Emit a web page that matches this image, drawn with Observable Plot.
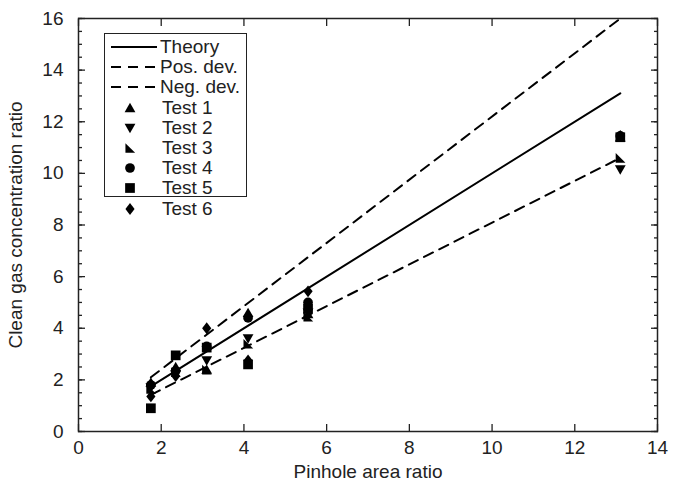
<!DOCTYPE html>
<html><head><meta charset="utf-8">
<script src="https://cdn.jsdelivr.net/npm/d3@7"></script>
<script src="https://cdn.jsdelivr.net/npm/@observablehq/plot@0.6"></script>
<style>
body{margin:0;background:#fff;font-family:"Liberation Sans",Arial,sans-serif;}
#wrap{position:relative;width:682px;height:485px;}
#legend{position:absolute;left:104px;top:33px;width:143px;height:164px;border:1.5px solid #222;background:#fff;box-sizing:border-box;}
.row{position:absolute;left:0;height:20px;display:flex;align-items:center;font-size:19px;color:#222;white-space:nowrap;}
.row svg{display:block;}
</style></head><body><div id="wrap"><div id="legend"></div></div>
<script>
// ---- data ----
const testNames = ["Test 1", "Test 2", "Test 3", "Test 4", "Test 5", "Test 6"];
const xLevels = [1.75, 2.35, 3.1, 4.1, 5.55, 13.1];
const test1 = [1.9, 2.5, 2.4, 4.6, 4.55, 11.4];
const test2 = [1.7, 2.2, 2.75, 3.6, 4.6, 10.15];
const test3 = [1.65, 2.3, 2.4, 3.4, 4.45, 10.6];
const test4 = [1.8, 2.35, 3.3, 4.4, 5.0, 11.45];
const test5 = [0.9, 2.95, 3.25, 2.6, 4.75, 11.4];
const test6 = [1.36, 2.15, 4.0, 2.75, 5.43, 11.45];
const lineX = [1.75, 13.1];
const theoryY = [1.75, 13.1];
const posDevY = [2.1, 16.0];
const negDevY = [1.42, 10.6];
const xTicks = [0, 2, 4, 6, 8, 10, 12, 14];
const yTicks = [0, 2, 4, 6, 8, 10, 12, 14, 16];
const yMinorTicks = d3.range(0, 16.01, 0.5);

// ---- symbol shapes (unit k = r) ----
function poly(ctx, pts){ ctx.moveTo(pts[0][0], pts[0][1]); for (let i=1;i<pts.length;i++) ctx.lineTo(pts[i][0], pts[i][1]); ctx.closePath(); }
const symUp = {draw(ctx, size){ const k=Math.sqrt(size/Math.PI); poly(ctx, [[0,-0.95*k],[-k,0.8*k],[k,0.8*k]]); }};
const symDown = {draw(ctx, size){ const k=Math.sqrt(size/Math.PI); poly(ctx, [[0,0.95*k],[-k,-0.8*k],[k,-0.8*k]]); }};
const symRight = {draw(ctx, size){ const k=Math.sqrt(size/Math.PI); poly(ctx, [[-0.85*k,-0.9*k],[-0.85*k,0.9*k],[0.95*k,0.9*k]]); }};
const symCircle = {draw(ctx, size){ const k=Math.sqrt(size/Math.PI); ctx.moveTo(0.9*k,0); ctx.arc(0,0,0.9*k,0,2*Math.PI); }};
const symSquare = {draw(ctx, size){ const k=Math.sqrt(size/Math.PI); poly(ctx, [[-0.9*k,-0.9*k],[0.9*k,-0.9*k],[0.9*k,0.9*k],[-0.9*k,0.9*k]]); }};
const symDiamond = {draw(ctx, size){ const k=Math.sqrt(size/Math.PI); poly(ctx, [[0,-1.1*k],[0.85*k,0],[0,1.1*k],[-0.85*k,0]]); }};
const symbols = [symUp, symDown, symRight, symCircle, symSquare, symDiamond];
const series = [test1, test2, test3, test4, test5, test6];

const points = [];
series.forEach((vals, i) => vals.forEach((v, j) => points.push({test: testNames[i], x: xLevels[j], y: v})));
const lines = [
  {name: "Theory", ys: theoryY, dash: null},
  {name: "Pos. dev.", ys: posDevY, dash: "10,7"},
  {name: "Neg. dev.", ys: negDevY, dash: "10,7"}
];

const R = 5.4;
const dotMarks = testNames.map((t, i) => Plot.dot(points.filter(d => d.test === t), {x: "x", y: "y", r: R, symbol: symbols[i], fill: "#000", stroke: "none"}));
const lineMarks = lines.map(L => Plot.line(lineX.map((x, i) => ({x, y: L.ys[i]})), {x: "x", y: "y", stroke: "#000", strokeWidth: 2, strokeDasharray: L.dash}));

const blank = () => "";
const chart = Plot.plot({
  width: 682, height: 485,
  marginLeft: 78, marginRight: 25, marginTop: 18, marginBottom: 54,
  style: {fontFamily: '"Liberation Sans", Arial, sans-serif', fontSize: "19px", color: "#222", background: "#fff", overflow: "visible"},
  x: {domain: [0, 14]},
  y: {domain: [0, 16]},
  marks: [
    ...lineMarks,
    ...dotMarks,
    Plot.axisX({anchor: "bottom", ticks: xTicks, tickSize: 0, tickPadding: 9, fontSize: 19, label: "Pinhole area ratio", labelAnchor: "center", labelOffset: 46, labelArrow: "none"}),
    Plot.axisX({anchor: "bottom", ticks: xTicks, tickSize: -7, tickFormat: blank, label: null, strokeWidth: 1.3}),
    Plot.axisX({anchor: "top", ticks: xTicks, tickSize: -7, tickFormat: blank, label: null, strokeWidth: 1.3}),
    Plot.axisY({anchor: "left", ticks: yTicks, tickSize: 0, tickPadding: 15, fontSize: 19, label: "Clean gas concentration ratio", labelAnchor: "center", labelOffset: 70, labelArrow: "none"}),
    Plot.axisY({anchor: "left", ticks: yMinorTicks, tickSize: -4, tickFormat: blank, label: null, strokeWidth: 1.3}),
    Plot.axisY({anchor: "left", ticks: yTicks, tickSize: -7, tickFormat: blank, label: null, strokeWidth: 1.3}),
    Plot.axisY({anchor: "right", ticks: yMinorTicks, tickSize: -4, tickFormat: blank, label: null, strokeWidth: 1.3}),
    Plot.axisY({anchor: "right", ticks: yTicks, tickSize: -7, tickFormat: blank, label: null, strokeWidth: 1.3}),
    Plot.frame({stroke: "#222", strokeWidth: 1.5})
  ]
});
document.getElementById("wrap").prepend(chart);

// ---- legend ----
const legend = d3.select("#legend");
const rowH = 20.2;
lines.forEach((L, i) => {
  const row = legend.append("div").attr("class", "row").style("top", (3 + i * rowH) + "px");
  const s = row.append("svg").attr("width", 55).attr("height", 20);
  s.append("line").attr("x1", 6).attr("x2", 52).attr("y1", 10).attr("y2", 10).attr("stroke", "#000").attr("stroke-width", 2).attr("stroke-dasharray", L.dash);
  row.append("span").text(L.name);
});
testNames.forEach((t, i) => {
  const row = legend.append("div").attr("class", "row").style("top", (3 + (i + 3) * rowH) + "px");
  const s = row.append("svg").attr("width", 55).attr("height", 20);
  const p = d3.path(); symbols[i].draw(p, Math.PI * R * R);
  s.append("path").attr("d", p.toString()).attr("transform", "translate(25,10)").attr("fill", "#000");
  row.append("span").text(t).style("padding-left", "2px");
});
</script></body></html>
